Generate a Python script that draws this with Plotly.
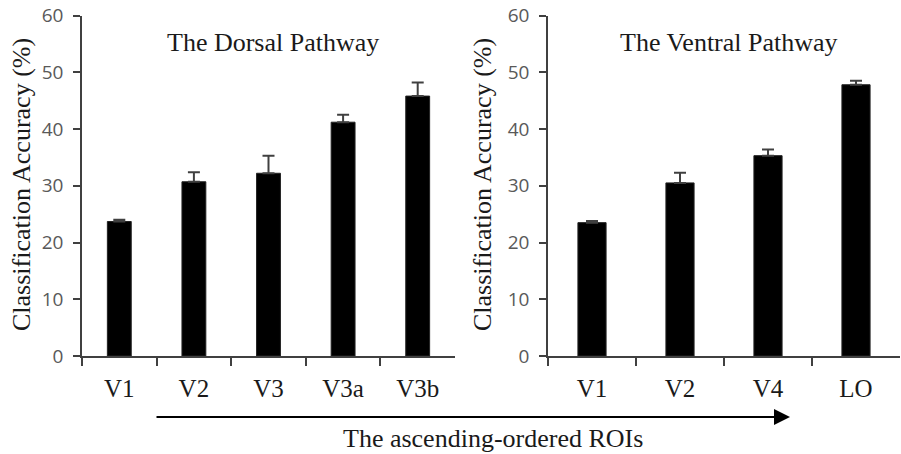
import plotly.graph_objects as go

# ---- data ----
dorsal_rois = ["V1", "V2", "V3", "V3a", "V3b"]
dorsal_acc = [23.7, 30.7, 32.2, 41.2, 45.8]
dorsal_err = [0.3, 1.7, 3.1, 1.3, 2.4]

ventral_rois = ["V1", "V2", "V4", "LO"]
ventral_acc = [23.5, 30.5, 35.3, 47.8]
ventral_err = [0.3, 1.8, 1.1, 0.7]

y_ticks = [0, 10, 20, 30, 40, 50, 60]

W, H = 901, 454
SERIF = "Liberation Serif, Times New Roman, serif"
SANS = "Open Sans, Lato, sans-serif"
AXC = "#404040"
TICKC = "#595959"

fig = go.Figure()

def add_bars(x, y, e, xa, ya):
    fig.add_trace(go.Bar(
        x=x, y=y, xaxis=xa, yaxis=ya, width=0.32,
        marker=dict(color="black", line=dict(color="#222222", width=1)),
        error_y=dict(type="data", symmetric=False, array=e,
                     arrayminus=[0] * len(e), color=AXC, thickness=2, width=6),
        showlegend=False,
    ))

add_bars(dorsal_rois, dorsal_acc, dorsal_err, "x", "y")
add_bars(ventral_rois, ventral_acc, ventral_err, "x2", "y2")

ydom = [(H - 356) / H, (H - 15.5) / H]

xcommon = dict(type="category", showline=True, linecolor=AXC, linewidth=1.5,
               ticks="outside", tickson="boundaries", ticklen=8, tickcolor=AXC,
               tickwidth=1.5, showgrid=False, zeroline=False, automargin=False,
               tickfont=dict(family=SERIF, size=25, color="#1a1a1a"),
               ticklabelstandoff=9)
ycommon = dict(range=[0, 60], tickvals=y_ticks, showline=True, linecolor=AXC,
               linewidth=1.5, ticks="outside", ticklen=7, tickcolor=AXC,
               tickwidth=1.5, showgrid=False, zeroline=False, automargin=False,
               tickfont=dict(family=SANS, size=19, color=TICKC),
               ticklabelstandoff=6, domain=ydom)

fig.update_layout(
    width=W, height=H,
    margin=dict(l=0, r=0, t=0, b=0, pad=0, autoexpand=False),
    paper_bgcolor="white", plot_bgcolor="white",
    bargap=0.68,
    xaxis=dict(domain=[82 / W, 455 / W], anchor="y", **xcommon),
    yaxis=dict(anchor="x", **ycommon),
    xaxis2=dict(domain=[548 / W, 900 / W], anchor="y2", **xcommon),
    yaxis2=dict(anchor="x2", **ycommon),
)

annos = [
    dict(text="The Dorsal Pathway", x=273 / W, y=(H - 43) / H),
    dict(text="The Ventral Pathway", x=729 / W, y=(H - 43) / H),
    dict(text="The ascending-ordered ROIs", x=493 / W, y=(H - 438) / H),
]
for a in annos:
    fig.add_annotation(xref="paper", yref="paper", showarrow=False,
                       xanchor="center", yanchor="middle",
                       font=dict(family=SERIF, size=26, color="#1a1a1a"), **a)

for xc in (22, 483):
    fig.add_annotation(xref="paper", yref="paper", x=xc / W, y=(H - 185) / H,
                       text="Classification Accuracy (%)", textangle=-90,
                       showarrow=False, xanchor="center", yanchor="middle",
                       font=dict(family=SERIF, size=26, color="#1a1a1a"))

# arrow under both panels
fig.add_annotation(xref="paper", yref="paper", x=790 / W, y=(H - 417) / H,
                   ax=-(790 - 155), ay=0, axref="pixel", ayref="pixel",
                   text="", showarrow=True, arrowhead=2, arrowsize=1.6,
                   arrowwidth=2, arrowcolor="black")

fig.write_html("out.html")
